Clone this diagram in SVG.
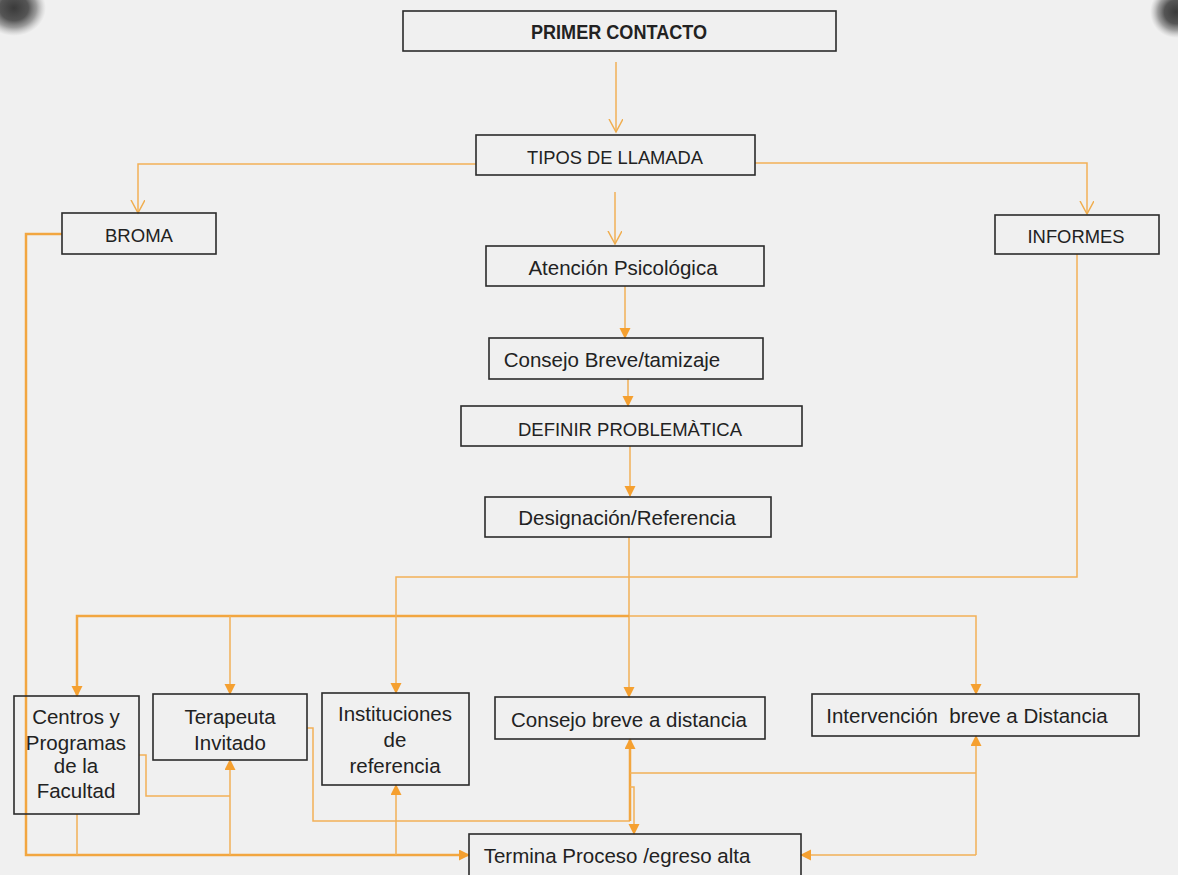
<svg xmlns="http://www.w3.org/2000/svg" width="1178" height="875" viewBox="0 0 1178 875">
<defs>
<radialGradient id="pin" cx="50%" cy="50%" r="50%">
<stop offset="0" stop-color="#3a3a3a"/>
<stop offset="0.45" stop-color="#555"/>
<stop offset="0.7" stop-color="#777" stop-opacity="0.7"/>
<stop offset="1" stop-color="#aaa" stop-opacity="0"/>
</radialGradient>
<marker id="open" markerUnits="userSpaceOnUse" markerWidth="16" markerHeight="16" refX="13" refY="7" orient="auto" viewBox="0 0 16 16">
<path d="M0,0 L13,7 L0,14" fill="none" stroke="#f0ad4e" stroke-width="1.5"/>
</marker>
<marker id="fill" markerUnits="userSpaceOnUse" markerWidth="12" markerHeight="12" refX="10" refY="5.5" orient="auto" viewBox="0 0 12 12">
<path d="M0,0 L11,5.5 L0,11 z" fill="#f5a030"/>
</marker>
<style>
.box{fill:none;stroke:#2b2b2b;stroke-width:1.6}
.t{font-family:"Liberation Sans",Arial,sans-serif;fill:#222;text-anchor:middle}
.m{font-size:20.5px}
.c{font-size:19px}
.b{font-size:20px;font-weight:bold}
.ln{fill:none;stroke:#f2b057;stroke-width:1.5}
.lk{fill:none;stroke:#f2a640;stroke-width:2.5}
.o{marker-end:url(#open)}
.f{marker-end:url(#fill)}
</style>
</defs>
<rect width="1178" height="875" fill="#f0f0f0"/>
<ellipse cx="14" cy="8" rx="32" ry="28" fill="url(#pin)"/>
<ellipse cx="1176" cy="12" rx="26" ry="26" fill="url(#pin)"/>

<g id="connectors">
<path class="ln o" d="M616,62 V132"/>
<path class="ln o" d="M476,164 H138 V213"/>
<path class="ln o" d="M755,163 H1087 V214"/>
<path class="ln o" d="M615,192 V244"/>
<path class="ln f" d="M625,286 V338"/>
<path class="ln f" d="M628,379 V406"/>
<path class="ln f" d="M630,446 V496"/>
<path class="ln f" d="M629,537 V697"/>
<path class="lk f" d="M629,616 H77 V696"/>
<path class="ln f" d="M230,616 V694"/>
<path class="ln f" d="M629,616 H976 V694"/>
<path class="ln f" d="M1077,254 V577 H396 V693"/>
<path class="lk f" d="M62,234 H26 V855 H469"/>
<path class="ln" d="M77,814 V855"/>
<path class="ln" d="M139,755 H146 V796 H230"/>
<path class="ln f" d="M230,855 V760"/>
<path class="ln f" d="M396,855 V785"/>
<path class="ln" d="M307,728 H313 V821 H630"/>
<path class="lk f" d="M630,821 V739"/>
<path class="ln f" d="M630,787 H634 V834"/>
<path class="ln" d="M630,773 H976"/>
<path class="ln f" d="M976,855 V736"/>
<path class="ln f" d="M976,855 H801"/>
</g>

<g id="n-primer"><rect class="box" x="403" y="11" width="433" height="40"/><text class="t b" x="619" y="39" textLength="176" lengthAdjust="spacingAndGlyphs">PRIMER CONTACTO</text></g>
<g id="n-tipos"><rect class="box" x="476" y="135" width="279" height="40"/><text class="t c" x="615" y="164" textLength="176" lengthAdjust="spacingAndGlyphs">TIPOS DE LLAMADA</text></g>
<g id="n-broma"><rect class="box" x="62" y="213" width="154" height="41"/><text class="t c" x="139" y="242" textLength="68" lengthAdjust="spacingAndGlyphs">BROMA</text></g>
<g id="n-informes"><rect class="box" x="995" y="215" width="164" height="39"/><text class="t c" x="1076" y="243" textLength="97" lengthAdjust="spacingAndGlyphs">INFORMES</text></g>
<g id="n-atencion"><rect class="box" x="486" y="246" width="278" height="40"/><text class="t m" x="623" y="275">Atención Psicológica</text></g>
<g id="n-consejo"><rect class="box" x="489" y="338" width="274" height="41"/><text class="t m" x="612" y="367">Consejo Breve/tamizaje</text></g>
<g id="n-definir"><rect class="box" x="461" y="406" width="341" height="40"/><text class="t c" x="630" y="436" textLength="224" lengthAdjust="spacingAndGlyphs">DEFINIR PROBLEMÀTICA</text></g>
<g id="n-designacion"><rect class="box" x="485" y="497" width="286" height="40"/><text class="t m" x="627" y="525">Designación/Referencia</text></g>
<g id="n-centros"><rect class="box" x="14" y="696" width="125" height="118"/><text class="t m" x="76" y="724">Centros y</text><text class="t m" x="76" y="750">Programas</text><text class="t m" x="76" y="773">de la</text><text class="t m" x="76" y="798">Facultad</text></g>
<g id="n-terapeuta"><rect class="box" x="153" y="694" width="154" height="66"/><text class="t m" x="230" y="724">Terapeuta</text><text class="t m" x="230" y="750">Invitado</text></g>
<g id="n-instituciones"><rect class="box" x="322" y="693" width="147" height="92"/><text class="t m" x="395" y="721">Instituciones</text><text class="t m" x="395" y="747">de</text><text class="t m" x="395" y="773">referencia</text></g>
<g id="n-consejo-distancia"><rect class="box" x="495" y="697" width="270" height="42"/><text class="t m" x="629" y="727">Consejo breve a distancia</text></g>
<g id="n-intervencion"><rect class="box" x="812" y="694" width="327" height="42"/><text class="t m" x="967" y="723" xml:space="preserve">Intervención  breve a Distancia</text></g>
<g id="n-termina"><rect class="box" x="469" y="834" width="332" height="50"/><text class="t m" x="617" y="863">Termina Proceso /egreso alta</text></g>
</svg>
